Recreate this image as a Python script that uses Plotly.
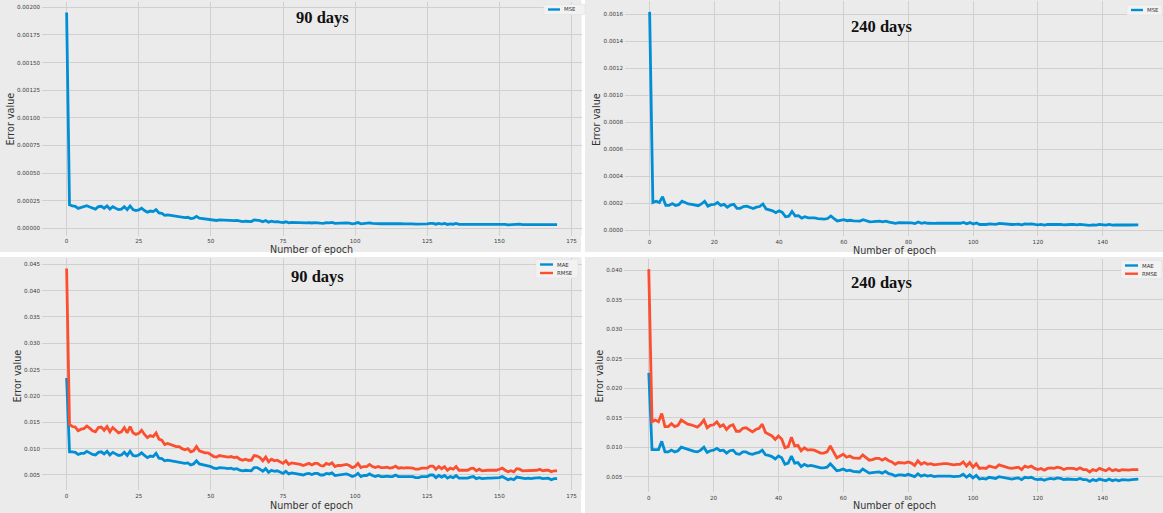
import plotly.graph_objects as go

W, H = 1163, 513

# ---------------- data ----------------
epochs_90 = list(range(171))
epochs_240 = list(range(152))

rmse_90 = [
    0.0442, 0.0146, 0.0142, 0.0141, 0.0134, 0.0137, 0.0138, 0.0143, 0.0139, 0.0134,
    0.0132, 0.0140, 0.0141, 0.0135, 0.0142, 0.0132, 0.0140, 0.0135, 0.0130, 0.0132,
    0.0140, 0.0130, 0.0142, 0.0130, 0.0127, 0.0129, 0.0135, 0.0127, 0.0121, 0.0125,
    0.0123, 0.0130, 0.0118, 0.0116, 0.0108, 0.0110, 0.0108, 0.0107, 0.0104, 0.0104,
    0.0100, 0.0098, 0.0100, 0.0094, 0.0096, 0.0104, 0.0096, 0.0094, 0.0092, 0.0092,
    0.0089, 0.0085, 0.0084, 0.0087, 0.0086, 0.0085, 0.0084, 0.0085, 0.0083, 0.0084,
    0.0080, 0.0078, 0.0080, 0.0078, 0.0078, 0.0087, 0.0086, 0.0083, 0.0077, 0.0084,
    0.0075, 0.0080, 0.0077, 0.0078, 0.0075, 0.0072, 0.0077, 0.0070, 0.0073, 0.0072,
    0.0072, 0.0070, 0.0068, 0.0070, 0.0072, 0.0069, 0.0072, 0.0072, 0.0068, 0.0067,
    0.0072, 0.0070, 0.0073, 0.0066, 0.0068, 0.0068, 0.0069, 0.0070, 0.0068, 0.0064,
    0.0066, 0.0072, 0.0064, 0.0066, 0.0066, 0.0070, 0.0066, 0.0064, 0.0066, 0.0064,
    0.0064, 0.0065, 0.0063, 0.0064, 0.0067, 0.0063, 0.0064, 0.0063, 0.0064, 0.0064,
    0.0063, 0.0061, 0.0061, 0.0063, 0.0063, 0.0063, 0.0067, 0.0067, 0.0061, 0.0066,
    0.0062, 0.0066, 0.0059, 0.0063, 0.0061, 0.0066, 0.0059, 0.0059, 0.0060, 0.0059,
    0.0062, 0.0063, 0.0058, 0.0061, 0.0058, 0.0059, 0.0059, 0.0059, 0.0059, 0.0059,
    0.0061, 0.0063, 0.0059, 0.0056, 0.0058, 0.0056, 0.0062, 0.0061, 0.0058, 0.0058,
    0.0059, 0.0058, 0.0059, 0.0059, 0.0061, 0.0058, 0.0059, 0.0059, 0.0056, 0.0058,
    0.0058,
]

mae_90 = [
    0.0234, 0.0094, 0.0094, 0.0093, 0.0089, 0.0091, 0.0091, 0.0095, 0.0092, 0.0089,
    0.0088, 0.0093, 0.0094, 0.0090, 0.0095, 0.0088, 0.0093, 0.0090, 0.0087, 0.0088,
    0.0093, 0.0087, 0.0095, 0.0087, 0.0086, 0.0088, 0.0092, 0.0087, 0.0083, 0.0086,
    0.0085, 0.0091, 0.0082, 0.0081, 0.0077, 0.0078, 0.0077, 0.0076, 0.0075, 0.0075,
    0.0073, 0.0072, 0.0073, 0.0069, 0.0071, 0.0077, 0.0071, 0.0070, 0.0068, 0.0068,
    0.0066, 0.0063, 0.0062, 0.0064, 0.0064, 0.0063, 0.0062, 0.0063, 0.0061, 0.0062,
    0.0059, 0.0058, 0.0059, 0.0058, 0.0058, 0.0064, 0.0064, 0.0061, 0.0057, 0.0062,
    0.0055, 0.0059, 0.0057, 0.0058, 0.0055, 0.0053, 0.0057, 0.0052, 0.0054, 0.0053,
    0.0053, 0.0052, 0.0050, 0.0052, 0.0053, 0.0051, 0.0053, 0.0053, 0.0050, 0.0050,
    0.0053, 0.0052, 0.0054, 0.0049, 0.0050, 0.0050, 0.0051, 0.0052, 0.0050, 0.0047,
    0.0049, 0.0053, 0.0047, 0.0049, 0.0049, 0.0052, 0.0049, 0.0047, 0.0049, 0.0047,
    0.0047, 0.0048, 0.0047, 0.0047, 0.0050, 0.0047, 0.0047, 0.0047, 0.0047, 0.0047,
    0.0047, 0.0045, 0.0045, 0.0047, 0.0047, 0.0047, 0.0050, 0.0050, 0.0045, 0.0049,
    0.0046, 0.0049, 0.0044, 0.0047, 0.0045, 0.0049, 0.0044, 0.0044, 0.0044, 0.0044,
    0.0046, 0.0047, 0.0043, 0.0045, 0.0043, 0.0044, 0.0044, 0.0044, 0.0044, 0.0044,
    0.0045, 0.0047, 0.0044, 0.0041, 0.0043, 0.0041, 0.0046, 0.0045, 0.0043, 0.0043,
    0.0044, 0.0043, 0.0044, 0.0044, 0.0045, 0.0043, 0.0044, 0.0044, 0.0041, 0.0043,
    0.0043,
]

mse_90 = [
    0.001954, 0.000213, 0.000202, 0.000199, 0.000180, 0.000188, 0.000190, 0.000204, 0.000193, 0.000180,
    0.000174, 0.000196, 0.000199, 0.000182, 0.000202, 0.000174, 0.000196, 0.000182, 0.000169, 0.000174,
    0.000196, 0.000169, 0.000202, 0.000169, 0.000161, 0.000166, 0.000182, 0.000161, 0.000146, 0.000156,
    0.000151, 0.000169, 0.000139, 0.000135, 0.000117, 0.000121, 0.000117, 0.000114, 0.000108, 0.000108,
    0.000100, 0.000096, 0.000100, 0.000088, 0.000092, 0.000108, 0.000092, 0.000088, 0.000085, 0.000085,
    0.000079, 0.000072, 0.000071, 0.000076, 0.000074, 0.000072, 0.000071, 0.000072, 0.000069, 0.000071,
    0.000064, 0.000061, 0.000064, 0.000061, 0.000061, 0.000076, 0.000074, 0.000069, 0.000059, 0.000071,
    0.000056, 0.000064, 0.000059, 0.000061, 0.000056, 0.000052, 0.000059, 0.000049, 0.000053, 0.000052,
    0.000052, 0.000049, 0.000046, 0.000049, 0.000052, 0.000048, 0.000052, 0.000052, 0.000046, 0.000045,
    0.000052, 0.000049, 0.000053, 0.000044, 0.000046, 0.000046, 0.000048, 0.000049, 0.000046, 0.000041,
    0.000044, 0.000052, 0.000041, 0.000044, 0.000044, 0.000049, 0.000044, 0.000041, 0.000044, 0.000041,
    0.000041, 0.000042, 0.000040, 0.000041, 0.000045, 0.000040, 0.000041, 0.000040, 0.000041, 0.000041,
    0.000040, 0.000037, 0.000037, 0.000040, 0.000040, 0.000040, 0.000045, 0.000045, 0.000037, 0.000044,
    0.000038, 0.000044, 0.000035, 0.000040, 0.000037, 0.000044, 0.000035, 0.000035, 0.000036, 0.000035,
    0.000038, 0.000040, 0.000034, 0.000037, 0.000034, 0.000035, 0.000035, 0.000035, 0.000035, 0.000035,
    0.000037, 0.000040, 0.000035, 0.000031, 0.000034, 0.000031, 0.000038, 0.000037, 0.000034, 0.000034,
    0.000035, 0.000034, 0.000035, 0.000035, 0.000037, 0.000034, 0.000035, 0.000035, 0.000031, 0.000034,
    0.000034,
]

rmse_240 = [
    0.0402, 0.0143, 0.0146, 0.0143, 0.0157, 0.0135, 0.0135, 0.0140, 0.0135, 0.0137,
    0.0146, 0.0142, 0.0139, 0.0138, 0.0136, 0.0134, 0.0139, 0.0146, 0.0133, 0.0137,
    0.0138, 0.0143, 0.0135, 0.0138, 0.0130, 0.0136, 0.0138, 0.0127, 0.0127, 0.0132,
    0.0133, 0.0129, 0.0126, 0.0130, 0.0132, 0.0139, 0.0125, 0.0122, 0.0119, 0.0113,
    0.0119, 0.0114, 0.0099, 0.0101, 0.0117, 0.0102, 0.0103, 0.0094, 0.0099, 0.0095,
    0.0096, 0.0095, 0.0092, 0.0090, 0.0090, 0.0092, 0.0102, 0.0092, 0.0082, 0.0085,
    0.0088, 0.0083, 0.0085, 0.0082, 0.0081, 0.0081, 0.0087, 0.0082, 0.0078, 0.0079,
    0.0081, 0.0081, 0.0078, 0.0081, 0.0077, 0.0075, 0.0071, 0.0074, 0.0074, 0.0073,
    0.0075, 0.0073, 0.0069, 0.0077, 0.0071, 0.0074, 0.0071, 0.0072, 0.0070, 0.0071,
    0.0071, 0.0072, 0.0072, 0.0071, 0.0070, 0.0071, 0.0071, 0.0075, 0.0068, 0.0074,
    0.0066, 0.0072, 0.0064, 0.0065, 0.0064, 0.0068, 0.0067, 0.0065, 0.0070, 0.0068,
    0.0067, 0.0065, 0.0064, 0.0065, 0.0066, 0.0062, 0.0068, 0.0066, 0.0068, 0.0064,
    0.0062, 0.0064, 0.0061, 0.0064, 0.0065, 0.0064, 0.0066, 0.0065, 0.0062, 0.0064,
    0.0064, 0.0064, 0.0062, 0.0065, 0.0062, 0.0062, 0.0058, 0.0062, 0.0060, 0.0064,
    0.0062, 0.0060, 0.0064, 0.0060, 0.0062, 0.0060, 0.0062, 0.0061, 0.0061, 0.0062,
    0.0062, 0.0062,
]

mae_240 = [
    0.0226, 0.0096, 0.0096, 0.0096, 0.0110, 0.0092, 0.0092, 0.0095, 0.0092, 0.0094,
    0.0100, 0.0098, 0.0096, 0.0095, 0.0093, 0.0092, 0.0095, 0.0100, 0.0091, 0.0094,
    0.0095, 0.0098, 0.0094, 0.0095, 0.0090, 0.0094, 0.0095, 0.0089, 0.0088, 0.0092,
    0.0092, 0.0089, 0.0088, 0.0090, 0.0091, 0.0095, 0.0087, 0.0086, 0.0084, 0.0080,
    0.0085, 0.0082, 0.0071, 0.0073, 0.0085, 0.0073, 0.0074, 0.0067, 0.0071, 0.0068,
    0.0069, 0.0068, 0.0066, 0.0065, 0.0065, 0.0066, 0.0072, 0.0066, 0.0060, 0.0061,
    0.0063, 0.0060, 0.0061, 0.0059, 0.0058, 0.0058, 0.0063, 0.0059, 0.0056, 0.0057,
    0.0058, 0.0058, 0.0056, 0.0059, 0.0055, 0.0054, 0.0051, 0.0053, 0.0053, 0.0052,
    0.0054, 0.0052, 0.0050, 0.0055, 0.0051, 0.0053, 0.0051, 0.0052, 0.0050, 0.0051,
    0.0051, 0.0052, 0.0052, 0.0051, 0.0050, 0.0051, 0.0051, 0.0054, 0.0049, 0.0053,
    0.0048, 0.0052, 0.0046, 0.0047, 0.0046, 0.0049, 0.0048, 0.0047, 0.0050, 0.0049,
    0.0048, 0.0047, 0.0046, 0.0047, 0.0048, 0.0045, 0.0049, 0.0048, 0.0049, 0.0046,
    0.0045, 0.0046, 0.0044, 0.0046, 0.0047, 0.0046, 0.0048, 0.0047, 0.0045, 0.0046,
    0.0046, 0.0046, 0.0045, 0.0047, 0.0045, 0.0045, 0.0042, 0.0045, 0.0043, 0.0046,
    0.0045, 0.0043, 0.0046, 0.0043, 0.0045, 0.0043, 0.0045, 0.0044, 0.0044, 0.0045,
    0.0045, 0.0046,
]

mse_240 = [
    0.001616, 0.000204, 0.000213, 0.000204, 0.000246, 0.000182, 0.000182, 0.000196, 0.000182, 0.000188,
    0.000213, 0.000202, 0.000193, 0.000190, 0.000185, 0.000180, 0.000193, 0.000213, 0.000177, 0.000188,
    0.000190, 0.000204, 0.000182, 0.000190, 0.000169, 0.000185, 0.000190, 0.000161, 0.000161, 0.000174,
    0.000177, 0.000166, 0.000159, 0.000169, 0.000174, 0.000193, 0.000156, 0.000149, 0.000142, 0.000128,
    0.000142, 0.000130, 0.000098, 0.000102, 0.000137, 0.000104, 0.000106, 0.000088, 0.000098, 0.000090,
    0.000092, 0.000090, 0.000085, 0.000081, 0.000081, 0.000085, 0.000104, 0.000085, 0.000067, 0.000072,
    0.000077, 0.000069, 0.000072, 0.000067, 0.000066, 0.000066, 0.000076, 0.000067, 0.000061, 0.000062,
    0.000066, 0.000066, 0.000061, 0.000066, 0.000059, 0.000056, 0.000050, 0.000055, 0.000055, 0.000053,
    0.000056, 0.000053, 0.000048, 0.000059, 0.000050, 0.000055, 0.000050, 0.000052, 0.000049, 0.000050,
    0.000050, 0.000052, 0.000052, 0.000050, 0.000049, 0.000050, 0.000050, 0.000056, 0.000046, 0.000055,
    0.000044, 0.000052, 0.000041, 0.000042, 0.000041, 0.000046, 0.000045, 0.000042, 0.000049, 0.000046,
    0.000045, 0.000042, 0.000041, 0.000042, 0.000044, 0.000038, 0.000046, 0.000044, 0.000046, 0.000041,
    0.000038, 0.000041, 0.000037, 0.000041, 0.000042, 0.000041, 0.000044, 0.000042, 0.000038, 0.000041,
    0.000041, 0.000041, 0.000038, 0.000042, 0.000038, 0.000038, 0.000034, 0.000038, 0.000036, 0.000041,
    0.000038, 0.000036, 0.000041, 0.000036, 0.000038, 0.000036, 0.000038, 0.000037, 0.000037, 0.000038,
    0.000038, 0.000038,
]

title_90 = "90 days"
title_240 = "240 days"
x_label = "Number of epoch"
y_label = "Error value"

# ---------------- style ----------------
BLUE = "#008fd5"
RED = "#fc4f30"
BG = "#ebebeb"
GRID = "#d0d0d0"
TICK = "#3c3c3c"
SANS = "DejaVu Sans"
SERIF = "Liberation Serif"


def fx(px):
    return px / W


def fy(py):
    return 1 - py / H


panels = [
    dict(x=epochs_90, series=[("MSE", mse_90, BLUE)], title=title_90,
         dom_x=(42.1, 581.6), dom_y=(1.8, 235.5), dx=25, dy=0.00025, fmt=".5f",
         bg=(0, 0, 581, 252), title_c=(322, 17), ylab_c=(10.5, 119), xlab_c=(311, 249),
         leg=(548, 560, 563, [9.5])),
    dict(x=epochs_240, series=[("MSE", mse_240, BLUE)], title=title_240,
         dom_x=(625.2, 1162.7), dom_y=(1.2, 236.1), dx=20, dy=0.0002, fmt=".4f",
         bg=(585, 0, 1163, 252), title_c=(882, 26), ylab_c=(596, 120), xlab_c=(894, 250),
         leg=(1131, 1143, 1146, [10])),
    dict(x=epochs_90, series=[("MAE", mae_90, BLUE), ("RMSE", rmse_90, RED)], title=title_90,
         dom_x=(42.1, 581.6), dom_y=(257.9, 490.3), dx=25, dy=0.005, fmt=".3f",
         bg=(0, 257, 581, 513), title_c=(317, 276), ylab_c=(16.5, 376), xlab_c=(311, 505),
         leg=(540, 553, 556, [264.5, 273])),
    dict(x=epochs_240, series=[("MAE", mae_240, BLUE), ("RMSE", rmse_240, RED)], title=title_240,
         dom_x=(624.3, 1162.8), dom_y=(258.5, 492.0), dx=20, dy=0.005, fmt=".3f",
         bg=(585, 257, 1163, 513), title_c=(882, 282), ylab_c=(598.5, 376), xlab_c=(894, 505),
         leg=(1125, 1138, 1141, [265.5, 273.7])),
]

fig = go.Figure()
shapes = []
annotations = []
layout_axes = {}

for i, p in enumerate(panels, start=1):
    xa = "x" if i == 1 else f"x{i}"
    ya = "y" if i == 1 else f"y{i}"
    # panel background
    x0, y0, x1, y1 = p["bg"]
    shapes.append(dict(type="rect", xref="paper", yref="paper", layer="below",
                       x0=fx(x0), x1=fx(x1), y0=fy(y1), y1=fy(y0),
                       fillcolor=BG, line=dict(width=0)))
    all_y = [v for _, s, _ in p["series"] for v in s]
    ymin, ymax = min(all_y), max(all_y)
    span = ymax - ymin
    xmax = max(p["x"])
    for name, vals, col in p["series"]:
        fig.add_trace(go.Scatter(x=p["x"], y=vals, mode="lines", name=name,
                                 line=dict(color=col, width=2.8), xaxis=xa, yaxis=ya,
                                 showlegend=False))
    common = dict(showline=False, zeroline=False, ticks="", showgrid=True,
                  gridcolor=GRID, gridwidth=1, automargin=False,
                  tickfont=dict(family=SANS, size=5.6, color=TICK))
    layout_axes["xaxis" if i == 1 else f"xaxis{i}"] = dict(
        common, domain=[fx(p["dom_x"][0]), fx(p["dom_x"][1])],
        range=[-0.05 * xmax, 1.05 * xmax], tick0=0, dtick=p["dx"],
        anchor=ya, ticklabelstandoff=1)
    layout_axes["yaxis" if i == 1 else f"yaxis{i}"] = dict(
        common, domain=[fy(p["dom_y"][1]), fy(p["dom_y"][0])],
        range=[ymin - 0.05 * span, ymax + 0.05 * span], tick0=0, dtick=p["dy"],
        tickformat=p["fmt"], anchor=xa, ticklabelstandoff=1)

    # in-plot title
    annotations.append(dict(text=f"<b>{p['title']}</b>", xref="paper", yref="paper",
                            x=fx(p["title_c"][0]), y=fy(p["title_c"][1]),
                            xanchor="center", yanchor="middle", showarrow=False,
                            font=dict(family=SERIF, size=16.5, color="#111111")))
    # axis labels
    annotations.append(dict(text=y_label, xref="paper", yref="paper",
                            x=fx(p["ylab_c"][0]), y=fy(p["ylab_c"][1]), textangle=-90,
                            xanchor="center", yanchor="middle", showarrow=False,
                            font=dict(family=SANS, size=9.6, color="#333333")))
    annotations.append(dict(text=x_label, xref="paper", yref="paper",
                            x=fx(p["xlab_c"][0]), y=fy(p["xlab_c"][1]),
                            xanchor="center", yanchor="middle", showarrow=False,
                            font=dict(family=SANS, size=9.6, color="#333333")))
    # legend (drawn compactly like the matplotlib one)
    lx0, lx1, tx, ys = p["leg"]
    shapes.append(dict(type="rect", xref="paper", yref="paper",
                       x0=fx(lx0 - 4), x1=fx(min(tx + 22, W - 1)),
                       y0=fy(ys[-1] + 5), y1=fy(ys[0] - 5),
                       fillcolor="#f2f2f2", line=dict(color="#e2e2e2", width=0.6)))
    for (name, _, col), yy in zip(p["series"], ys):
        shapes.append(dict(type="line", xref="paper", yref="paper",
                           x0=fx(lx0), x1=fx(lx1), y0=fy(yy), y1=fy(yy),
                           line=dict(color=col, width=2.4)))
        annotations.append(dict(text=name, xref="paper", yref="paper",
                                x=fx(tx), y=fy(yy), xanchor="left", yanchor="middle",
                                showarrow=False, borderpad=0,
                                font=dict(family=SANS, size=5.4, color="#333333")))

fig.update_layout(
    width=W, height=H,
    margin=dict(l=0, r=0, t=0, b=0),
    paper_bgcolor="white",
    plot_bgcolor=BG,
    showlegend=False,
    hovermode=False,
    shapes=shapes,
    annotations=annotations,
    **layout_axes,
)

fig.write_html(
    "out.html",
    config={"displayModeBar": False, "staticPlot": True},
    post_script="document.body.style.margin='0';document.body.style.padding='0';"
                "document.body.style.overflow='hidden';",
)
